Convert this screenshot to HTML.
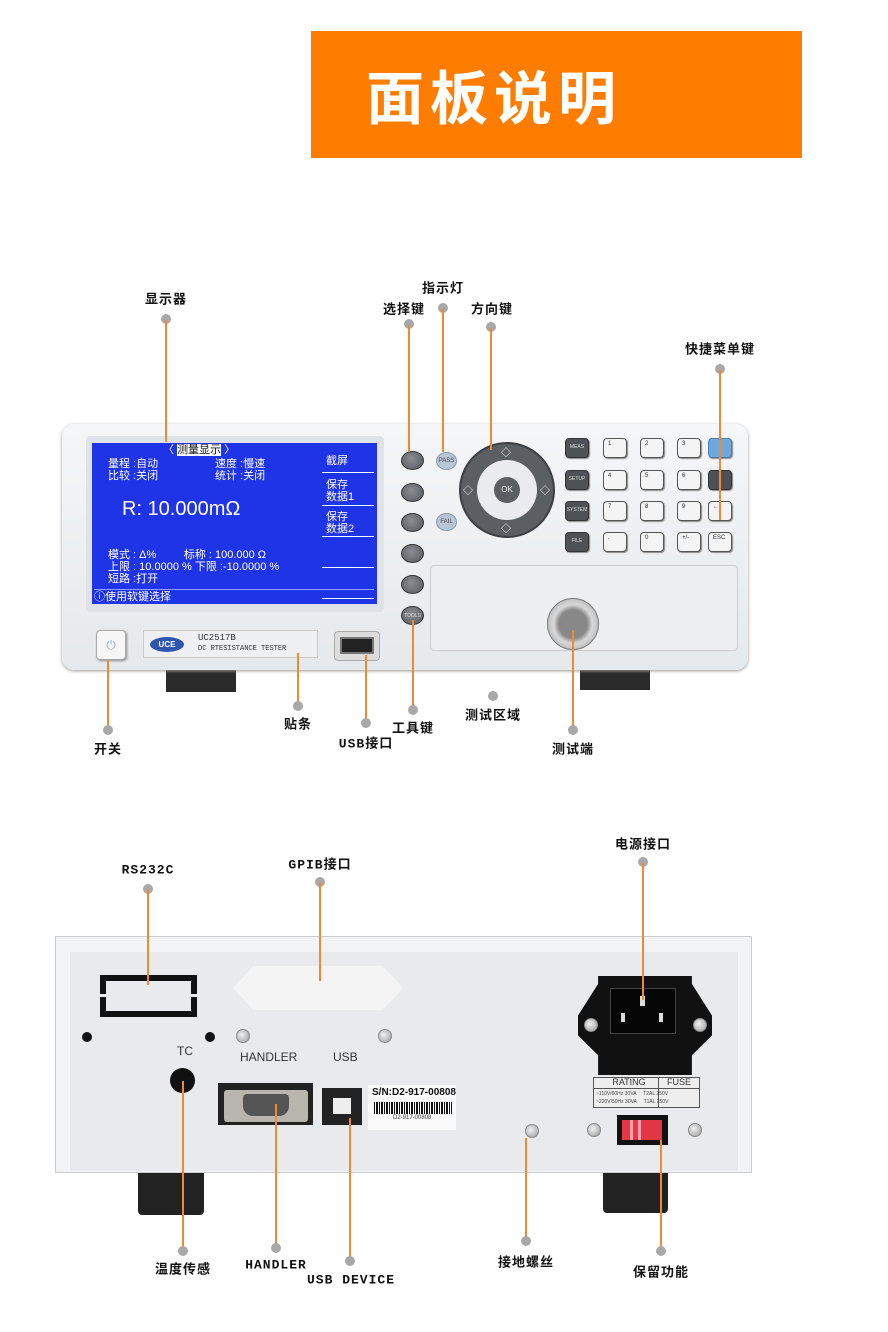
<!DOCTYPE html>
<html><head><meta charset="utf-8"><style>
*{margin:0;padding:0;box-sizing:border-box}
body{width:888px;height:1332px;background:#fff;position:relative;overflow:hidden;font-family:"Liberation Sans","Noto Sans CJK SC",sans-serif}
.a{position:absolute}
.lbl{position:absolute;transform:translate(-50%,-50%);font-size:13px;font-weight:bold;color:#111;white-space:nowrap;font-family:"Liberation Mono","Noto Sans CJK SC",sans-serif;letter-spacing:1px}
.dot{position:absolute;width:10px;height:10px;border-radius:50%;background:#a8a8a8;transform:translate(-50%,-50%)}
.ln{position:absolute;width:1.5px;background:#ee8a35}
.sb{position:absolute;width:23px;height:19px;border-radius:50%;background:radial-gradient(circle at 45% 40%,#8a8d92,#55585d);border:1px solid #333}
.key{position:absolute;width:24px;height:20px;border-radius:4px;background:#f4f4f4;border:1.5px solid #555;box-shadow:1px 1px 1px #888;font-size:6px;color:#333;padding:2px 0 0 4px}
.kd{background:#4e5256;color:#ddd;border-color:#333;text-align:center;padding:5px 0 0 0;font-size:5px}
.scr{position:absolute;color:#fff;font-size:11px;font-family:"Liberation Sans","Noto Sans CJK SC",sans-serif;white-space:nowrap;line-height:12px}
.screw{position:absolute;width:14px;height:14px;border-radius:50%;background:radial-gradient(circle at 40% 40%,#f0f0f0,#9a9a9a);border:1px solid #888;transform:translate(-50%,-50%)}
</style></head><body>

<div class="a" style="left:311px;top:31px;width:491px;height:127px;background:#fe7c00"></div>
<div class="a" style="left:366px;top:58px;font-size:58px;font-weight:bold;color:#fff;letter-spacing:6px;line-height:72px;font-family:'Noto Sans CJK SC',sans-serif">面板说明</div>

<!-- FRONT PANEL -->
<div class="a" style="left:166px;top:664px;width:70px;height:28px;background:#2a2a2a"></div>
<div class="a" style="left:580px;top:664px;width:70px;height:26px;background:#2a2a2a"></div>
<div class="a" style="left:62px;top:424px;width:686px;height:246px;border-radius:12px;background:linear-gradient(#f4f6f8,#e6e9ec);box-shadow:0 1px 3px #999"></div>
<div class="a" style="left:86px;top:436px;width:298px;height:176px;background:#dfe2e6;border-radius:4px"></div>
<div class="a" style="left:92px;top:443px;width:285px;height:161px;background:#1f34e6"></div>
<div class="scr" style="left:163px;top:444px;background:none">〈 <span style="background:#fff;color:#111">测量显示</span> 〉</div>
<div class="scr" style="left:108px;top:458px">量程 :自动<br>比较 :关闭</div>
<div class="scr" style="left:215px;top:458px">速度 :慢速<br>统计 :关闭</div>
<div class="scr" style="left:122px;top:498px;font-size:20px;line-height:22px">R: 10.000mΩ</div>
<div class="scr" style="left:108px;top:549px">模式 : Δ%&nbsp;&nbsp;&nbsp;&nbsp;&nbsp;&nbsp;&nbsp;&nbsp;&nbsp;标称 : 100.000 Ω<br>上限 : 10.0000 %&nbsp;下限 :-10.0000 %<br>短路 :打开</div>
<div class="scr" style="left:94px;top:591px">ⓘ使用软键选择</div>
<div class="a" style="left:94px;top:589px;width:280px;height:1px;background:#8fa0ff"></div>
<div class="scr" style="left:326px;top:455px">截屏</div>
<div class="scr" style="left:326px;top:479px">保存<br>数据1</div>
<div class="scr" style="left:326px;top:511px">保存<br>数据2</div>
<div class="a" style="left:322px;top:472px;width:52px;height:1px;background:#fff"></div>
<div class="a" style="left:322px;top:505px;width:52px;height:1px;background:#fff"></div>
<div class="a" style="left:322px;top:536px;width:52px;height:1px;background:#fff"></div>
<div class="a" style="left:322px;top:567px;width:52px;height:1px;background:#fff"></div>
<div class="a" style="left:322px;top:598px;width:52px;height:1px;background:#fff"></div>

<div class="sb" style="left:401px;top:451px"></div>
<div class="sb" style="left:401px;top:483px"></div>
<div class="sb" style="left:401px;top:513px"></div>
<div class="sb" style="left:401px;top:544px"></div>
<div class="sb" style="left:401px;top:575px"></div>
<div class="sb" style="left:401px;top:606px;font-size:5px;color:#ddd;text-align:center;padding-top:6px">TOOLS</div>
<div class="a" style="left:436px;top:452px;width:21px;height:18px;border-radius:50%;background:#b9c6d6;border:1px solid #8899aa;font-size:6px;color:#445;text-align:center;line-height:16px">PASS</div>
<div class="a" style="left:436px;top:513px;width:21px;height:18px;border-radius:50%;background:#b9c6d6;border:1px solid #8899aa;font-size:6px;color:#445;text-align:center;line-height:16px">FAIL</div>
<!-- dpad -->
<div class="a" style="left:459px;top:442px;width:96px;height:96px;border-radius:50%;background:#5b5f64;border:2px solid #3c3f43"></div>
<div class="a" style="left:477px;top:460px;width:60px;height:60px;border-radius:50%;background:#e9ebee"></div>
<div class="a" style="left:494px;top:477px;width:26px;height:26px;border-radius:50%;background:#5b5f64;color:#eee;font-size:8px;text-align:center;line-height:26px">OK</div>
<div class="a" style="left:501px;top:444px;color:#fff;font-size:10px">◇</div>
<div class="a" style="left:501px;top:520px;color:#fff;font-size:10px">◇</div>
<div class="a" style="left:463px;top:482px;color:#fff;font-size:10px">◇</div>
<div class="a" style="left:540px;top:482px;color:#fff;font-size:10px">◇</div>

<div class="key kd" style="left:565px;top:438px">MEAS</div>
<div class="key kd" style="left:565px;top:470px">SETUP</div>
<div class="key kd" style="left:565px;top:501px">SYSTEM</div>
<div class="key kd" style="left:565px;top:532px">FILE</div>
<div class="key" style="left:603px;top:438px">1</div><div class="key" style="left:640px;top:438px">2</div><div class="key" style="left:677px;top:438px">3</div>
<div class="key" style="left:603px;top:470px">4</div><div class="key" style="left:640px;top:470px">5</div><div class="key" style="left:677px;top:470px">6</div>
<div class="key" style="left:603px;top:501px">7</div><div class="key" style="left:640px;top:501px">8</div><div class="key" style="left:677px;top:501px">9</div>
<div class="key" style="left:603px;top:532px">.</div><div class="key" style="left:640px;top:532px">0</div><div class="key" style="left:677px;top:532px">+/-</div>
<div class="key" style="left:708px;top:438px;background:#6fa8dc;border-color:#4a7fb0"></div>
<div class="key kd" style="left:708px;top:470px"></div>
<div class="key" style="left:708px;top:501px">←</div>
<div class="key" style="left:708px;top:532px">ESC</div>

<div class="a" style="left:430px;top:565px;width:308px;height:86px;border:1px solid #c8ccd0;border-radius:4px;background:#eceef0"></div>
<div class="a" style="left:547px;top:598px;width:52px;height:52px;border-radius:50%;background:radial-gradient(circle,#888 0 40%,#d8d8d8 55%,#999 100%);border:1px solid #777"></div>

<div class="a" style="left:96px;top:630px;width:30px;height:30px;border-radius:4px;background:#f6f6f6;border:1px solid #aaa;box-shadow:1px 1px 2px #888;text-align:center;color:#9ab;font-size:12px;line-height:28px">⏻</div>
<div class="a" style="left:143px;top:630px;width:175px;height:28px;border:1px solid #ccc;background:#eef0f2"></div>
<div class="a" style="left:150px;top:637px;width:34px;height:15px;border-radius:50%;background:#2f55b0;color:#fff;font-size:8px;font-weight:bold;text-align:center;line-height:15px">UCE</div>
<div class="a" style="left:198px;top:633px;font-size:9px;color:#333;line-height:10px;font-family:'Liberation Mono',monospace">UC2517B<br><span style="font-size:7px">DC RTESISTANCE TESTER</span></div>
<div class="a" style="left:334px;top:631px;width:46px;height:30px;border-radius:4px;background:#dcdcdc;border:1px solid #aaa"></div>
<div class="a" style="left:340px;top:637px;width:34px;height:17px;background:#222;border:2px solid #777"></div>

<!-- front labels -->
<div class="lbl" style="left:166px;top:298px">显示器</div><div class="dot" style="left:166px;top:319px"></div><div class="ln" style="left:165px;top:320px;height:122px"></div>
<div class="lbl" style="left:443px;top:287px">指示灯</div><div class="dot" style="left:443px;top:308px"></div><div class="ln" style="left:442px;top:309px;height:143px"></div>
<div class="lbl" style="left:404px;top:308px">选择键</div><div class="dot" style="left:409px;top:324px"></div><div class="ln" style="left:408px;top:325px;height:127px"></div>
<div class="lbl" style="left:492px;top:308px">方向键</div><div class="dot" style="left:491px;top:327px"></div><div class="ln" style="left:490px;top:328px;height:122px"></div>
<div class="lbl" style="left:720px;top:348px">快捷菜单键</div><div class="dot" style="left:720px;top:369px"></div><div class="ln" style="left:719px;top:370px;height:150px"></div>

<div class="ln" style="left:107px;top:660px;height:70px"></div><div class="dot" style="left:108px;top:730px"></div><div class="lbl" style="left:108px;top:748px">开关</div>
<div class="ln" style="left:297px;top:653px;height:53px"></div><div class="dot" style="left:298px;top:706px"></div><div class="lbl" style="left:298px;top:723px">贴条</div>
<div class="ln" style="left:365px;top:655px;height:67px"></div><div class="dot" style="left:366px;top:723px"></div><div class="lbl" style="left:366px;top:742px">USB接口</div>
<div class="ln" style="left:412px;top:620px;height:90px"></div><div class="dot" style="left:413px;top:710px"></div><div class="lbl" style="left:413px;top:727px">工具键</div>
<div class="dot" style="left:493px;top:696px"></div><div class="lbl" style="left:493px;top:714px">测试区域</div>
<div class="ln" style="left:572px;top:630px;height:99px"></div><div class="dot" style="left:573px;top:730px"></div><div class="lbl" style="left:573px;top:748px">测试端</div>

<!-- BACK PANEL -->
<div class="a" style="left:138px;top:1168px;width:66px;height:47px;background:#222;border-radius:0 0 4px 4px"></div>
<div class="a" style="left:603px;top:1168px;width:65px;height:45px;background:#222;border-radius:0 0 4px 4px"></div>
<div class="a" style="left:55px;top:936px;width:697px;height:237px;background:#f2f3f4;border:1px solid #ccc"></div>
<div class="a" style="left:70px;top:952px;width:668px;height:219px;background:#e8eaec"></div>
<div class="a" style="left:100px;top:975px;width:97px;height:42px;border:6px solid #111"></div>
<div class="a" style="left:96px;top:994px;width:105px;height:3px;background:#e8eaec"></div>
<div class="a" style="left:233px;top:966px;width:170px;height:44px;background:#f4f4f4;clip-path:polygon(12% 0,88% 0,100% 50%,88% 100%,12% 100%,0 50%);"></div>
<div class="a" style="left:82px;top:1032px;width:10px;height:10px;border-radius:50%;background:#111"></div>
<div class="a" style="left:205px;top:1032px;width:10px;height:10px;border-radius:50%;background:#111"></div>
<div class="screw" style="left:243px;top:1036px"></div>
<div class="screw" style="left:385px;top:1036px"></div>
<div class="a" style="left:177px;top:1044px;font-size:12px;color:#333">TC</div>
<div class="a" style="left:240px;top:1050px;font-size:12px;color:#333">HANDLER</div>
<div class="a" style="left:333px;top:1050px;font-size:12px;color:#333">USB</div>
<div class="a" style="left:170px;top:1068px;width:25px;height:25px;border-radius:50%;background:#111"></div>
<div class="a" style="left:218px;top:1083px;width:95px;height:42px;background:#222"></div>
<div class="a" style="left:224px;top:1090px;width:84px;height:32px;background:#b8b5ae;border-radius:3px"></div>
<div class="a" style="left:243px;top:1094px;width:46px;height:22px;background:#555;border-radius:4px 4px 10px 10px"></div>
<div class="a" style="left:322px;top:1088px;width:40px;height:37px;background:#222"></div>
<div class="a" style="left:333px;top:1098px;width:18px;height:16px;background:#eee"></div>
<div class="a" style="left:368px;top:1085px;width:88px;height:45px;background:#fafafa"></div>
<div class="a" style="left:372px;top:1087px;font-size:10px;font-weight:bold;color:#111;font-family:'Liberation Sans Narrow','Liberation Sans',sans-serif">S/N:D2-917-00808</div>
<div class="a" style="left:374px;top:1102px;width:78px;height:12px;background:repeating-linear-gradient(90deg,#111 0 1px,#fff 1px 2px,#111 2px 4px,#fff 4px 5px)"></div>
<div class="a" style="left:393px;top:1115px;font-size:6px;color:#333">D2-917-00808</div>
<div class="a" style="left:578px;top:976px;width:134px;height:99px;background:#111;clip-path:polygon(15% 0,85% 0,85% 8%,100% 40%,100% 60%,85% 80%,85% 100%,15% 100%,15% 80%,0 60%,0 40%,15% 8%)"></div>
<div class="a" style="left:610px;top:988px;width:66px;height:46px;background:#050505;border:1px solid #444"></div>
<div class="a" style="left:640px;top:996px;width:5px;height:10px;background:#ddd"></div>
<div class="a" style="left:621px;top:1013px;width:4px;height:9px;background:#ddd"></div>
<div class="a" style="left:659px;top:1013px;width:4px;height:9px;background:#ddd"></div>
<div class="screw" style="left:591px;top:1025px"></div>
<div class="screw" style="left:700px;top:1025px"></div>
<div class="a" style="left:593px;top:1077px;width:107px;height:31px;border:1px solid #555;font-size:8px;color:#333;background:#eee"></div>
<div class="a" style="left:596px;top:1077px;font-size:9px;color:#333;width:66px;text-align:center">RATING</div>
<div class="a" style="left:660px;top:1077px;font-size:9px;color:#333;width:38px;text-align:center">FUSE</div>
<div class="a" style="left:658px;top:1077px;width:1px;height:31px;background:#555"></div>
<div class="a" style="left:593px;top:1088px;width:107px;height:1px;background:#555"></div>
<div class="a" style="left:596px;top:1090px;font-size:5px;color:#444;line-height:8px">~110V/60Hz 30VA &nbsp;&nbsp;&nbsp;&nbsp;T2AL 250V<br>~220V/50Hz 30VA &nbsp;&nbsp;&nbsp;&nbsp;T1AL 250V</div>
<div class="a" style="left:617px;top:1115px;width:51px;height:30px;background:#111"></div>
<div class="a" style="left:622px;top:1120px;width:40px;height:20px;background:#e23744"></div>
<div class="a" style="left:630px;top:1120px;width:3px;height:20px;background:#ffa0a8"></div>
<div class="a" style="left:638px;top:1120px;width:3px;height:20px;background:#ffa0a8"></div>
<div class="screw" style="left:594px;top:1130px"></div>
<div class="screw" style="left:695px;top:1130px"></div>
<div class="screw" style="left:532px;top:1131px"></div>

<!-- back labels -->
<div class="lbl" style="left:148px;top:870px">RS232C</div><div class="dot" style="left:148px;top:889px"></div><div class="ln" style="left:147px;top:890px;height:95px"></div>
<div class="lbl" style="left:320px;top:863px">GPIB接口</div><div class="dot" style="left:320px;top:882px"></div><div class="ln" style="left:319px;top:883px;height:98px"></div>
<div class="lbl" style="left:643px;top:843px">电源接口</div><div class="dot" style="left:643px;top:862px"></div><div class="ln" style="left:642px;top:863px;height:137px"></div>

<div class="ln" style="left:182px;top:1081px;height:170px"></div><div class="dot" style="left:183px;top:1251px"></div><div class="lbl" style="left:183px;top:1268px">温度传感</div>
<div class="ln" style="left:275px;top:1104px;height:144px"></div><div class="dot" style="left:276px;top:1248px"></div><div class="lbl" style="left:276px;top:1265px">HANDLER</div>
<div class="ln" style="left:349px;top:1118px;height:143px"></div><div class="dot" style="left:350px;top:1261px"></div><div class="lbl" style="left:351px;top:1280px">USB DEVICE</div>
<div class="ln" style="left:525px;top:1138px;height:103px"></div><div class="dot" style="left:526px;top:1241px"></div><div class="lbl" style="left:526px;top:1261px">接地螺丝</div>
<div class="ln" style="left:660px;top:1140px;height:110px"></div><div class="dot" style="left:661px;top:1251px"></div><div class="lbl" style="left:661px;top:1271px">保留功能</div>
</body></html>
